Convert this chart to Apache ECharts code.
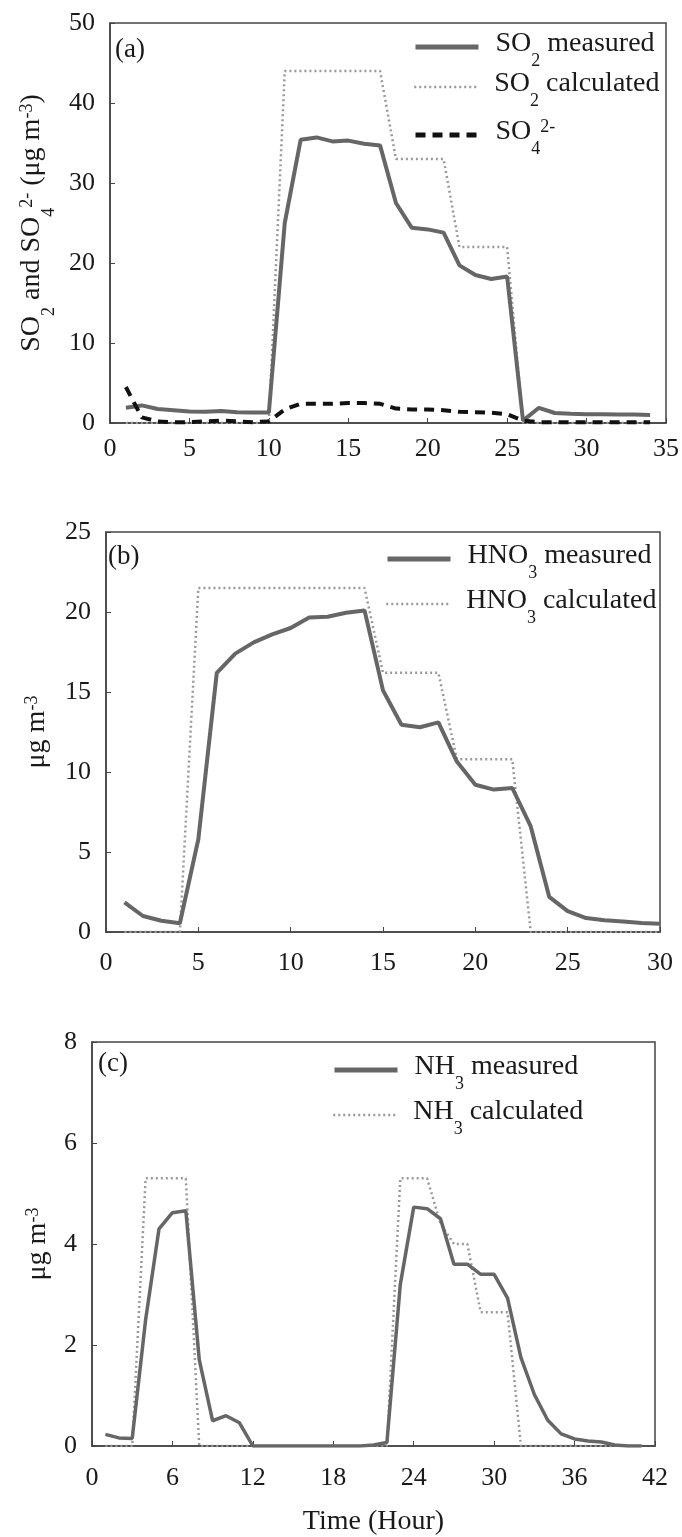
<!DOCTYPE html>
<html>
<head>
<meta charset="utf-8">
<title>Measured and calculated SO2, HNO3, NH3</title>
<script src="https://cdn.jsdelivr.net/npm/echarts@6/dist/echarts.min.js"></script>
<style>
  html, body { margin: 0; padding: 0; background: #fff; }
  #chart { width: 682px; height: 1537px; }
</style>
</head>
<body>
<div id="chart"></div>
<script>
// panel (a): SO2 / SO4 2-
const hoursA = [1, 2, 3, 4, 5, 6, 7, 8, 9, 10, 11, 12, 13, 14, 15, 16, 17,
  18, 19, 20, 21, 22, 23, 24, 25, 26, 27, 28, 29, 30, 31, 32, 33, 34];
const so2Measured = [1.9, 2.2, 1.75, 1.6, 1.45, 1.4, 1.5, 1.35, 1.3, 1.3,
  25, 35.4, 35.7, 35.2, 35.3, 34.9, 34.7,
  27.5, 24.4, 24.2, 23.8, 19.7, 18.5, 18.0, 18.3,
  0.3, 1.9, 1.25, 1.15, 1.1, 1.1, 1.05, 1.05, 1.0];
const so2Calculated = [0, 0, 0, 0, 0, 0, 0, 0, 0, 0,
  44, 44, 44, 44, 44, 44, 44,
  33, 33, 33, 33, 22, 22, 22, 22,
  0, 0, 0, 0, 0, 0, 0, 0, 0];
const so4 = [4.5, 0.7, 0.2, 0.1, 0.1, 0.2, 0.3, 0.2, 0.1, 0.2,
  1.7, 2.4, 2.4, 2.4, 2.5, 2.5, 2.4,
  1.8, 1.7, 1.7, 1.6, 1.4, 1.35, 1.3, 1.1,
  0.3, 0.1, 0.1, 0.1, 0.1, 0.1, 0.1, 0.1, 0.1];

// panel (b): HNO3
const hoursB = [1, 2, 3, 4, 5, 6, 7, 8, 9, 10, 11, 12, 13, 14, 15,
  16, 17, 18, 19, 20, 21, 22, 23, 24, 25, 26, 27, 28, 29, 30];
const hno3Measured = [1.85, 1.0, 0.7, 0.55, 5.8, 16.2, 17.4, 18.1, 18.6, 19.0,
  19.65, 19.7, 19.95, 20.1, 15.1, 12.95, 12.8, 13.1, 10.65, 9.2,
  8.9, 9.0, 6.6, 2.2, 1.3, 0.87, 0.73, 0.66, 0.56, 0.52];
const hno3Calculated = [0, 0, 0, 0, 21.5, 21.5, 21.5, 21.5, 21.5, 21.5,
  21.5, 21.5, 21.5, 21.5, 16.2, 16.2, 16.2, 16.2, 10.8, 10.8,
  10.8, 10.8, 0, 0, 0, 0, 0, 0, 0, 0];

// panel (c): NH3
const hoursC = [1, 2, 3, 4, 5, 6, 7, 8, 9, 10, 11, 12, 13, 14, 15, 16, 17,
  18, 19, 20, 21, 22, 23, 24, 25, 26, 27, 28, 29, 30, 31, 32, 33, 34,
  35, 36, 37, 38, 39, 40, 41];
const nh3Measured = [0.23, 0.16, 0.15, 2.5, 4.3, 4.62, 4.66, 1.71, 0.5, 0.6, 0.46,
  0, 0, 0, 0, 0, 0, 0, 0, 0,
  0.02, 0.07, 3.2, 4.73, 4.7, 4.5, 3.6, 3.6, 3.4, 3.4, 2.93,
  1.75, 1.02, 0.51, 0.24, 0.14, 0.1, 0.08, 0.02, 0, 0];
const nh3Calculated = [0, 0, 0, 5.3, 5.3, 5.3, 5.3,
  0, 0, 0, 0, 0, 0, 0, 0, 0, 0, 0, 0, 0, 0, 0,
  5.3, 5.3, 5.3, 4.4, 4.0, 4.0, 2.65, 2.65, 2.65,
  0, 0, 0, 0, 0, 0, 0, 0, 0, 0];

const FONT = '"Liberation Serif", "Times New Roman", serif';
const TEXT = '#1a1a1a';

const rich = {
  t: { fontFamily: FONT, fontSize: 28, lineHeight: 34, verticalAlign: 'top', color: TEXT },
  sub: { fontFamily: FONT, fontSize: 18, lineHeight: 18, padding: [22, 0, 0, 0], verticalAlign: 'top', color: TEXT },
  sup: { fontFamily: FONT, fontSize: 18, lineHeight: 12, verticalAlign: 'top', color: TEXT },
  g: { fontSize: 10, width: 12 }
};

const legendText = {
  'SO2 measured': '{g| }{t|SO}{sub|2}{t| measured}',
  'SO2 calculated': '{g| }{t|SO}{sub|2}{t| calculated}',
  'SO42-': '{g| }{t|SO}{sub|4}{sup|2-}',
  'HNO3 measured': '{g| }{t|HNO}{sub|3}{t| measured}',
  'HNO3 calculated': '{g| }{t|HNO}{sub|3}{t| calculated}',
  'NH3 measured': '{g| }{t|NH}{sub|3}{t| measured}',
  'NH3 calculated': '{g| }{t|NH}{sub|3}{t| calculated}'
};

const pairs = (xs, ys) => xs.map((x, i) => [x, ys[i]]);

const measuredStyle = (w) => ({ color: '#666', width: w, type: 'solid' });
const calcStyle = { color: '#999', width: 2.5, type: [2, 3] };
const so4Style = { color: '#111', width: 4, type: [10, 7] };

function lineSeries(name, idx, xs, ys, lineStyle, z) {
  return {
    name, type: 'line', xAxisIndex: idx, yAxisIndex: idx,
    data: pairs(xs, ys), showSymbol: false, symbol: 'none',
    lineStyle, itemStyle: { color: lineStyle.color }, z,
    silent: true, animation: false
  };
}

// one legend per row so each row can sit where the reference puts it
function legend(name, left, top, lineStyle) {
  return {
    data: [name], left, top, padding: 0, itemWidth: 63, itemHeight: 14,
    selectedMode: false,
    itemStyle: { opacity: 0 }, // hide the marker dot, keep the line
    lineStyle,
    formatter: (n) => legendText[n],
    textStyle: { rich }
  };
}

function xAxis(idx, max, interval, margin, extra) {
  return Object.assign({
    type: 'value', gridIndex: idx, min: 0, max, interval,
    axisLine: { show: true, lineStyle: { color: '#444', width: 1.5 } },
    axisTick: { show: true, inside: true, length: 5, lineStyle: { color: '#444' } },
    axisLabel: { fontFamily: FONT, fontSize: 26, color: TEXT, margin },
    splitLine: { show: false }
  }, extra || {});
}

function yAxis(idx, max, interval, name, nameGap) {
  return {
    type: 'value', gridIndex: idx, min: 0, max, interval,
    name, nameLocation: 'middle', nameGap, nameRotate: 90,
    nameTextStyle: { rich },
    axisLine: { show: true, lineStyle: { color: '#444', width: 1.5 } },
    axisTick: { show: true, inside: true, length: 5, lineStyle: { color: '#444' } },
    axisLabel: { fontFamily: FONT, fontSize: 26, color: TEXT, margin: 15 },
    splitLine: { show: false }
  };
}

const gridBase = { show: true, borderColor: '#444', borderWidth: 1.5, backgroundColor: 'transparent' };

const legMeasured = { color: '#666', width: 5, type: 'solid' };
const legCalc = { color: '#999', width: 2.5, type: [2, 3] };
const legSo4 = { color: '#111', width: 5, type: [10, 7] };

const option = {
  backgroundColor: '#fff',
  animation: false,
  title: [
    { text: '(a)', left: 115, top: 36, padding: 0, textStyle: { fontFamily: FONT, fontSize: 27, fontWeight: 'normal', color: TEXT } },
    { text: '(b)', left: 108, top: 543, padding: 0, textStyle: { fontFamily: FONT, fontSize: 27, fontWeight: 'normal', color: TEXT } },
    { text: '(c)', left: 98, top: 1050, padding: 0, textStyle: { fontFamily: FONT, fontSize: 27, fontWeight: 'normal', color: TEXT } }
  ],
  grid: [
    Object.assign({ left: 110, top: 23, width: 556, height: 400 }, gridBase),
    Object.assign({ left: 106, top: 532, width: 554, height: 400 }, gridBase),
    Object.assign({ left: 92, top: 1042, width: 563, height: 405 }, gridBase)
  ],
  xAxis: [
    xAxis(0, 35, 5, 13),
    xAxis(1, 30, 5, 18),
    xAxis(2, 42, 6, 19, {
      name: 'Time (Hour)', nameLocation: 'middle', nameGap: 62,
      nameTextStyle: { fontFamily: FONT, fontSize: 28, color: TEXT }
    })
  ],
  yAxis: [
    yAxis(0, 50, 10, '{t|SO}{sub|2}{t| and SO}{sub|4}{sup|2-}{t| (μg m}{sup|-3}{t|)}', 57),
    yAxis(1, 25, 5, '{t|μg m}{sup|-3}', 49),
    yAxis(2, 8, 2, '{t|μg m}{sup|-3}', 34)
  ],
  legend: [
    legend('SO2 measured', 413, 30, legMeasured),
    legend('SO2 calculated', 413, 70, legCalc),
    legend('SO42-', 413, 118, legSo4),
    legend('HNO3 measured', 385, 542, legMeasured),
    legend('HNO3 calculated', 385, 587, legCalc),
    legend('NH3 measured', 332, 1053, legMeasured),
    legend('NH3 calculated', 332, 1098, legCalc)
  ],
  series: [
    lineSeries('SO2 calculated', 0, hoursA, so2Calculated, calcStyle, 2),
    lineSeries('SO2 measured', 0, hoursA, so2Measured, measuredStyle(4), 3),
    lineSeries('SO42-', 0, hoursA, so4, so4Style, 4),
    lineSeries('HNO3 calculated', 1, hoursB, hno3Calculated, calcStyle, 2),
    lineSeries('HNO3 measured', 1, hoursB, hno3Measured, measuredStyle(4), 3),
    lineSeries('NH3 calculated', 2, hoursC, nh3Calculated, calcStyle, 2),
    lineSeries('NH3 measured', 2, hoursC, nh3Measured, measuredStyle(3.5), 3)
  ]
};

const chart = echarts.init(document.getElementById('chart'));
chart.setOption(option);
</script>
</body>
</html>
